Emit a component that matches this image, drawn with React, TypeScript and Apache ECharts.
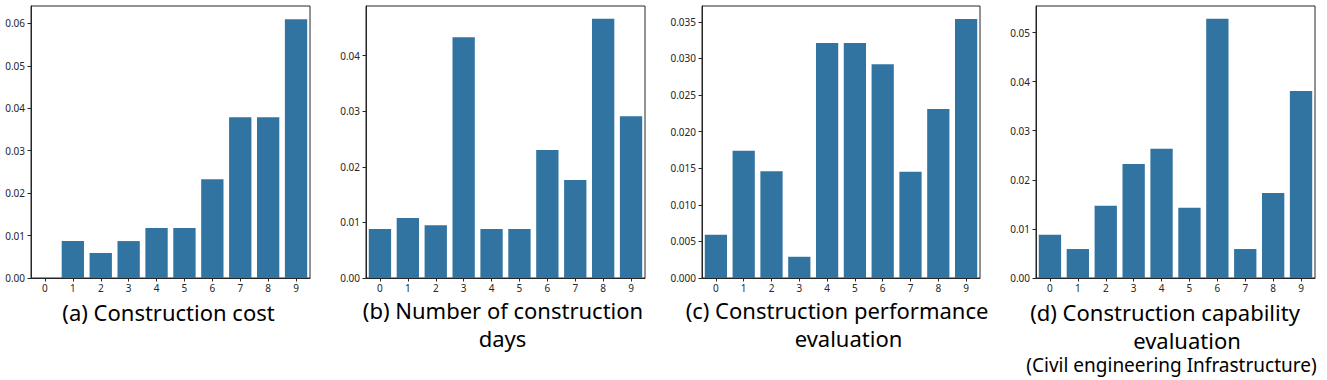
import React, { useEffect, useRef } from "react";
import * as echarts from "echarts";

const categories = ["0", "1", "2", "3", "4", "5", "6", "7", "8", "9"];

const costValues = [0, 0.0087, 0.0059, 0.0087, 0.0118, 0.0118, 0.0233, 0.0379, 0.0379, 0.061];
const daysValues = [0.0088, 0.0108, 0.0095, 0.0433, 0.0088, 0.0088, 0.023, 0.0176, 0.0466, 0.0291];
const performanceValues = [0.0059, 0.0174, 0.0146, 0.0029, 0.0321, 0.0321, 0.0292, 0.0145, 0.0231, 0.0354];
const capabilityValues = [0.0088, 0.0059, 0.0147, 0.0232, 0.0263, 0.0143, 0.0528, 0.0059, 0.0173, 0.0381];

const costTicks = [0, 0.01, 0.02, 0.03, 0.04, 0.05, 0.06];
const daysTicks = [0, 0.01, 0.02, 0.03, 0.04];
const performanceTicks = [0, 0.005, 0.01, 0.015, 0.02, 0.025, 0.03, 0.035];
const capabilityTicks = [0, 0.01, 0.02, 0.03, 0.04, 0.05];

const panels = [
  { values: costValues, ticks: costTicks, max: 0.0641, decimals: 2, left: 31, width: 279 },
  { values: daysValues, ticks: daysTicks, max: 0.0489, decimals: 2, left: 366, width: 279 },
  { values: performanceValues, ticks: performanceTicks, max: 0.03716, decimals: 3, left: 702, width: 278 },
  { values: capabilityValues, ticks: capabilityTicks, max: 0.0554, decimals: 2, left: 1036, width: 279 },
];

// caption lines: text, centre x, middle y, font size
const captionLines: [string, number, number, number][] = [
  ["(a) Construction cost", 168.5, 311.5, 22],
  ["(b) Number of construction", 503, 310, 22],
  ["days", 502.5, 338, 22],
  ["(c) Construction performance", 837, 310, 22],
  ["evaluation", 848.5, 338, 22],
  ["(d) Construction capability", 1165, 311.5, 22],
  ["evaluation", 1187, 339.5, 22],
  ["(Civil engineering Infrastructure)", 1171.5, 365, 19],
];

const FONT = "'Noto Sans', 'Open Sans', sans-serif";
const AXIS_COLOR = "#262626";
const BAR_COLOR = "#3274a1";

export default function App() {
  const ref = useRef<HTMLDivElement>(null);
  useEffect(() => {
    if (!ref.current) return;
    const chart = echarts.init(ref.current, null, { renderer: "svg" });
    const top = 6;
    const height = 272;
    const option: any = {
      animation: false,
      backgroundColor: "#ffffff",
      grid: panels.map((p) => ({
        left: p.left,
        top,
        width: p.width,
        height,
        show: true,
        borderColor: AXIS_COLOR,
        borderWidth: 1,
        containLabel: false,
      })),
      xAxis: panels.map((p, i) => ({
        type: "category",
        gridIndex: i,
        data: categories,
        boundaryGap: true,
        axisLine: { lineStyle: { color: AXIS_COLOR, width: 1 } },
        axisTick: { show: true, alignWithLabel: true, length: 3.5, lineStyle: { color: AXIS_COLOR } },
        axisLabel: { color: AXIS_COLOR, fontSize: 10, fontFamily: FONT, margin: 5 },
        splitLine: { show: false },
      })),
      yAxis: panels.map((p, i) => ({
        type: "value",
        gridIndex: i,
        min: 0,
        max: p.max,
        axisLine: { show: true, lineStyle: { color: AXIS_COLOR, width: 1 } },
        axisTick: { show: true, length: 3.5, lineStyle: { color: AXIS_COLOR }, customValues: p.ticks },
        axisLabel: {
          color: AXIS_COLOR,
          fontSize: 10,
          fontFamily: FONT,
          margin: 6,
          customValues: p.ticks,
          formatter: (v: number) => v.toFixed(p.decimals),
        },
        splitLine: { show: false },
      })),
      series: panels.map((p, i) => ({
        type: "bar",
        xAxisIndex: i,
        yAxisIndex: i,
        data: p.values,
        barCategoryGap: "20%",
        itemStyle: { color: BAR_COLOR },
      })),
      graphic: captionLines.map(([text, x, y, size]) => ({
        type: "text",
        x,
        y,
        style: {
          text,
          font: `${size}px ${FONT}`,
          fill: "#000000",
          textAlign: "center",
          textVerticalAlign: "middle",
        },
      })),
    };
    chart.setOption(option);
    return () => chart.dispose();
  }, []);
  return (
    <div
      ref={ref}
      style={{ position: "fixed", left: 0, top: 0, width: 1327, height: 380, background: "#fff" }}
    />
  );
}
